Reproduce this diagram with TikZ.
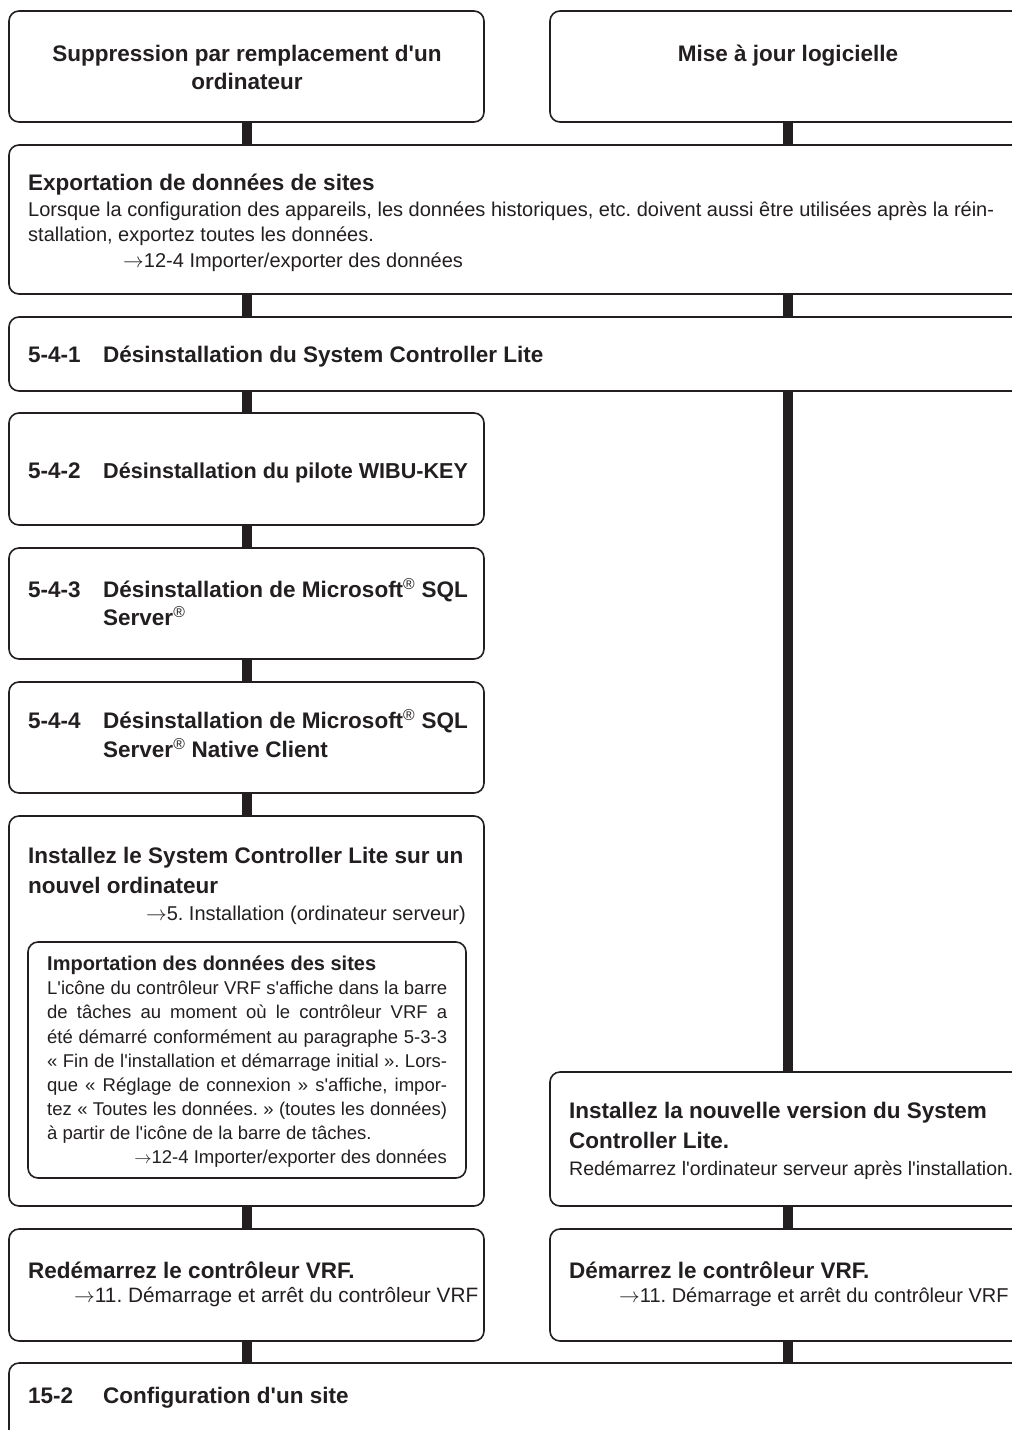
\documentclass[tikz,border=0pt]{standalone}
\usepackage{fontspec}
\setmainfont{Liberation Sans}[Ligatures=TeXOff]
\definecolor{ink}{HTML}{231F20}
\newcommand\hdf{\fontsize{22.5}{29}\selectfont\bfseries}
\newcommand\ihdf{\fontsize{20}{25}\selectfont\bfseries}
\newcommand\bdf{\fontsize{20}{25}\selectfont}
\newcommand\ibdf{\fontsize{18.5}{24}\selectfont}
\newcommand\reg{\textsuperscript{\normalfont ®}}
\newcommand\arr{$\rightarrow$}
\frenchspacing
\begin{document}
\begin{tikzpicture}[x=1pt,y=-1pt,
  box/.style={draw=ink, fill=white, line width=1.6pt, rounded corners=10pt,
    anchor=north west, inner sep=0pt, outer sep=0pt},
  conn/.style={draw=ink, line width=10pt},
  hd/.style={inner sep=0pt, anchor=base west, text=ink, font=\hdf},
  bd/.style={inner sep=0pt, anchor=base west, text=ink, font=\bdf},
  ihd/.style={inner sep=0pt, anchor=base west, text=ink, font=\ihdf},
  ibd/.style={inner sep=0pt, anchor=base west, text=ink, font=\ibdf}]
\clip (0,0) rectangle (1012,1430);
\fill[white] (0,0) rectangle (1012,1430);
% boxes
\node[box, minimum width=475pt, minimum height=111pt] (top1) at (9,11) {};
\node[box, minimum width=476pt, minimum height=111pt] (top2) at (550,11) {};
\node[box, minimum width=1040pt, minimum height=149pt] (exp) at (9,145) {};
\node[box, minimum width=1040pt, minimum height=74pt] (s541) at (9,317) {};
\node[box, minimum width=475pt, minimum height=112pt] (s542) at (9,413) {};
\node[box, minimum width=475pt, minimum height=111pt] (s543) at (9,548) {};
\node[box, minimum width=475pt, minimum height=111pt] (s544) at (9,682) {};
\node[box, minimum width=475pt, minimum height=390pt] (inst) at (9,816) {};
\node[box, minimum width=438pt, minimum height=236pt] (imp) at (28,942) {};
\node[box, minimum width=500pt, minimum height=134pt] (instR) at (550,1072) {};
\node[box, minimum width=475pt, minimum height=112pt] (redem) at (9,1229) {};
\node[box, minimum width=500pt, minimum height=112pt] (dem) at (550,1229) {};
\node[box, minimum width=1040pt, minimum height=120pt] (s152) at (9,1363) {};
% connectors
\draw[conn] (top1.south) -- (top1.south |- exp.north);
\draw[conn] (top2.south) -- (top2.south |- exp.north);
\draw[conn] (top1.south |- exp.south) -- (top1.south |- s541.north);
\draw[conn] (top2.south |- exp.south) -- (top2.south |- s541.north);
\draw[conn] (top1.south |- s541.south) -- (s542.north);
\draw[conn] (top2.south |- s541.south) -- (top2.south |- instR.north);
\draw[conn] (s542.south) -- (s543.north);
\draw[conn] (s543.south) -- (s544.north);
\draw[conn] (s544.south) -- (inst.north);
\draw[conn] (inst.south) -- (redem.north);
\draw[conn] (top2.south |- instR.south) -- (top2.south |- dem.north);
\draw[conn] (redem.south) -- (redem.south |- s152.north);
\draw[conn] (top2.south |- dem.south) -- (top2.south |- s152.north);
% texts
\node[hd, anchor=base] (t1a) at (247,61) {Suppression par remplacement d'un};
\node[hd, anchor=base] (t1b) at (247,89) {ordinateur};
\node[hd, anchor=base] (t2) at (788,61) {Mise à jour logicielle};
\node[hd] (t3) at (28,190) {Exportation de données de sites};
\node[bd] (t3a) at (28,216) {\makebox[966pt][s]{Lorsque la configuration des appareils, les données historiques, etc. doivent aussi être utilisées après la réin-}};
\node[bd] (t3b) at (28,241) {stallation, exportez toutes les données.};
\node[bd] (t3c) at (123,267) {\arr12-4 Importer/exporter des données};
\node[hd] (n541) at (28,362) {5-4-1};
\node[hd] (t541) at (103,362) {Désinstallation du System Controller Lite};
\node[hd] (n542) at (28,478) {5-4-2};
\node[hd, font=\fontsize{21.6}{29}\selectfont\bfseries] (t542) at (103,478) {Désinstallation du pilote WIBU-KEY};
\node[hd] (n543) at (28,597) {5-4-3};
\node[hd] (t543a) at (103,597) {Désinstallation de Microsoft\reg{} SQL};
\node[hd] (t543b) at (103,625) {Server\reg};
\node[hd] (n544) at (28,728) {5-4-4};
\node[hd] (t544a) at (103,728) {Désinstallation de Microsoft\reg{} SQL};
\node[hd] (t544b) at (103,757) {Server\reg{} Native Client};
\node[hd] (ti1) at (28,863) {Installez le System Controller Lite sur un};
\node[hd] (ti2) at (28,893) {nouvel ordinateur};
\node[bd, anchor=base east] (ti3) at (466,920) {\arr5. Installation (ordinateur serveur)};
\node[ihd] (tm0) at (47,970) {Importation des données des sites};
\node[ibd] (tm1) at (47,994) {\makebox[400pt][s]{L'icône du contrôleur VRF s'affiche dans la barre}};
\node[ibd] (tm2) at (47,1018) {\makebox[400pt][s]{de tâches au moment où le contrôleur VRF a}};
\node[ibd] (tm3) at (47,1043) {\makebox[400pt][s]{été démarré conformément au paragraphe 5-3-3}};
\node[ibd] (tm4) at (47,1067) {\makebox[400pt][s]{« Fin de l'installation et démarrage initial ». Lors-}};
\node[ibd] (tm5) at (47,1091) {\makebox[400pt][s]{que « Réglage de connexion » s'affiche, impor-}};
\node[ibd] (tm6) at (47,1115) {\makebox[400pt][s]{tez « Toutes les données. » (toutes les données)}};
\node[ibd] (tm7) at (47,1139) {à partir de l'icône de la barre de tâches.};
\node[ibd, anchor=base east] (tm8) at (447,1163) {\arr12-4 Importer/exporter des données};
\node[hd] (tr1) at (569,1118) {Installez la nouvelle version du System};
\node[hd] (tr2) at (569,1148) {Controller Lite.};
\node[bd, font=\fontsize{19.5}{25}\selectfont] (tr3) at (569,1175) {Redémarrez l'ordinateur serveur après l'installation.};
\node[hd] (tl1) at (28,1278) {Redémarrez le contrôleur VRF.};
\node[bd, font=\fontsize{20.8}{25}\selectfont] (tl2) at (74,1302) {\arr11. Démarrage et arrêt du contrôleur VRF};
\node[hd] (td1) at (569,1278) {Démarrez le contrôleur VRF.};
\node[bd] (td2) at (619,1302) {\arr11. Démarrage et arrêt du contrôleur VRF};
\node[hd] (n152) at (28,1403) {15-2};
\node[hd] (t152) at (103,1403) {Configuration d'un site};
\end{tikzpicture}
\end{document}
